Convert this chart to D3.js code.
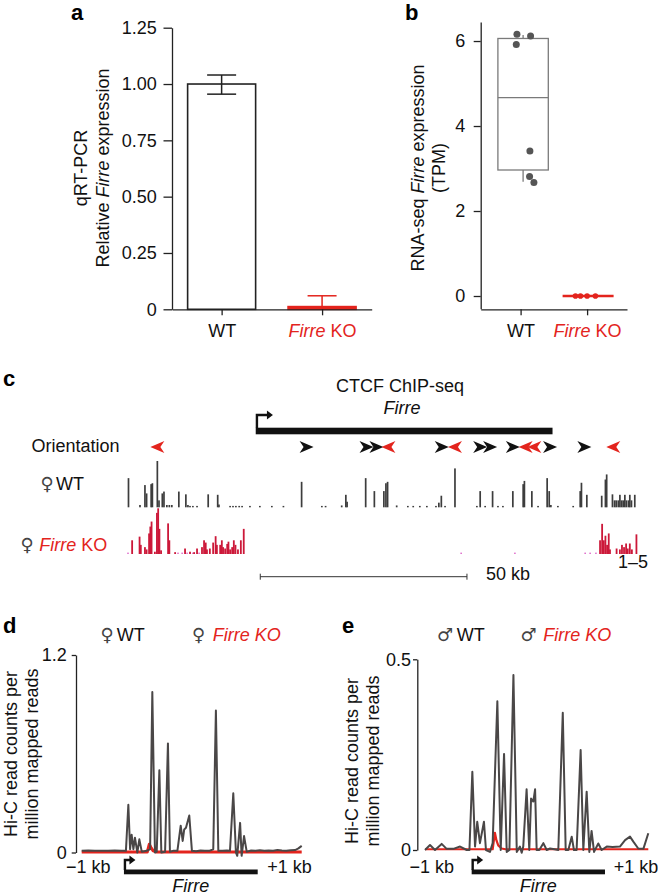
<!DOCTYPE html>
<html><head><meta charset="utf-8">
<script src="https://cdn.jsdelivr.net/npm/d3@7/dist/d3.min.js"></script>
<style>body{margin:0;background:#fff}</style>
</head><body><svg id="c" width="658" height="894" style="background:#fff"></svg>
<script>
// ================= DATA =================
// Panel a: qRT-PCR
const qpcrCategories = ["WT", "Firre KO"];
const qpcrMeans = [1.00, 0.012];
const qpcrErrLow = [0.955, 0.0];
const qpcrErrHigh = [1.04, 0.06];
const qpcrTicks = [0, 0.25, 0.5, 0.75, 1.0, 1.25];
const qpcrTickLabels = ["0", "0.25", "0.50", "0.75", "1.00", "1.25"];

// Panel b: RNA-seq TPM
const rnaCategories = ["WT", "Firre KO"];
const rnaWTValues = [6.16, 6.12, 5.92, 3.41, 2.81, 2.67];
const rnaWTJitter = [-0.055, 0.15, -0.065, 0.14, 0.135, 0.2];
const rnaKOValues = [0.0, 0.0, 0.0, 0.0];
const rnaKOJitter = [-0.175, -0.1, 0.0, 0.125];
const rnaWTBox = {q1: 2.965, median: 4.67, q3: 6.06, lo: 2.69, hi: 6.14};
const rnaKOBox = {q1: 0, median: 0, q3: 0, lo: 0, hi: 0};
const rnaTicks = [0, 2, 4, 6];

// Panel c: CTCF ChIP-seq (kb from left edge of view)
const geneStartKb = 30.9, geneEndKb = 102.7;
const scaleBarKb = [32, 82];
const orientationKb = [7.1, 43.2, 57.7, 60.1, 63.0, 75.9, 79.1, 85.2, 87.6, 93.1, 96.2, 98.3, 102.1, 110.4, 117.4];
const orientationDir = [-1, 1, 1, 1, -1, 1, -1, 1, 1, 1, -1, -1, 1, 1, -1];
const wtPeakKb = [0.12, 2.9, 4.1, 4.5, 5.6, 5.9, 7.1, 7.5, 8.3, 8.7, 9.4, 10.0, 10.6, 12.3, 14.0, 14.5, 15.0, 15.7, 16.7,
  19.4, 21.7, 22.0, 24.7, 25.4, 26.1, 26.9, 27.6, 29.5, 31.9, 34.8, 37.6, 42.0, 46.9, 47.8, 51.7, 52.7, 53.0,
  57.5, 59.6, 61.9, 62.4, 62.8, 65.0, 67.7, 69.0, 70.6, 72.3, 74.5, 75.2, 75.8, 76.7, 79.1, 84.4, 85.2, 86.4,
  88.2, 89.5, 90.7, 93.1, 95.6, 95.9, 97.7, 99.2, 101.4, 101.9, 102.3, 104.0, 107.7, 109.4, 109.7, 111.0,
  114.6, 115.5, 115.8, 117.2, 117.7, 118.1, 118.6, 119.0, 119.4, 119.8, 120.2, 120.6, 121.1, 121.4, 121.8, 122.6];
const wtPeakHeight = [0.63, 0.05, 0.48, 0.3, 0.5, 0.52, 1.0, 0.15, 0.3, 0.34, 0.05, 0.05, 0.05, 0.34, 0.28, 0.05, 0.03, 0.03, 0.03,
  0.28, 0.27, 0.06, 0.03, 0.03, 0.03, 0.03, 0.03, 0.03, 0.03, 0.03, 0.03, 0.55, 0.03, 0.03, 0.04, 0.27, 0.12,
  0.63, 0.35, 0.35, 0.52, 0.55, 0.04, 0.03, 0.03, 0.03, 0.03, 0.03, 0.1, 0.25, 0.03, 0.84, 0.03, 0.35, 0.03,
  0.35, 0.03, 0.03, 0.35, 0.5, 0.57, 0.35, 0.03, 0.63, 0.35, 0.05, 0.03, 0.03, 0.35, 0.53, 0.27,
  0.25, 0.6, 0.71, 0.28, 0.15, 0.15, 0.15, 0.27, 0.15, 0.15, 0.27, 0.15, 0.15, 0.27, 0.15, 0.27];
const koPeakKb = [1.0, 2.8, 3.1, 4.1, 4.5, 5.1, 5.4, 5.7, 6.5, 7.0, 7.3, 7.6, 8.0, 9.7, 10.0, 11.4, 13.8, 15.0, 16.0, 16.7,
  17.9, 18.4, 18.8, 19.1, 19.8, 20.6, 21.2, 21.5, 22.3, 22.7, 23.0, 23.5, 24.0, 24.3, 24.7, 25.2, 25.6, 26.0, 26.6,
  27.3, 28.0, 114.2, 114.7, 115.1, 115.5, 115.9, 116.3, 116.6, 118.2, 119.0, 119.5, 120.0, 120.5, 120.9, 121.4, 121.9, 123.0];
const koPeakHeight = [0.3, 0.38, 0.2, 0.15, 0.1, 0.45, 0.6, 0.71, 0.05, 0.9, 1.0, 0.55, 0.08, 0.67, 0.3, 0.04, 0.12, 0.05, 0.04, 0.12,
  0.15, 0.3, 0.25, 0.1, 0.12, 0.25, 0.39, 0.2, 0.2, 0.3, 0.15, 0.12, 0.22, 0.27, 0.1, 0.15, 0.3, 0.2, 0.1,
  0.3, 0.55, 0.3, 0.66, 0.3, 0.4, 0.2, 0.45, 0.1, 0.12, 0.1, 0.2, 0.15, 0.23, 0.12, 0.23, 0.1, 0.43];
const koLowSignalKb = [0, 12.1, 13.1, 14.3, 15.7, 17.2, 80.6, 93.6, 110.6, 111.8, 113.2];

// Panel d: female Hi-C (position along window 0-100, value)
const hicFemaleWT = [[0,0.01],[3,0.012],[6,0.01],[9,0.011],[12,0.01],[15,0.012],[18,0.01],[20.1,0.01],
  [21.2,0.29],[22,0.02],[22.7,0.108],[23.5,0.02],[24.2,0.09],[25.3,0.0],[26.2,0.08],[27.3,0.005],
  [29.5,0.01],[31.1,0.02],[32.1,0.975],[33.3,0.0],[34.1,0.005],[35.3,0.5],[36.2,0.0],
  [37.9,0.005],[39.2,0.663],[40.1,0.005],[41.5,0.01],[43.5,0.01],[45,0.163],[45.9,0.07],[46.6,0.14],[47.4,0.15],[48.9,0.225],[50.1,0.01],
  [52,0.008],[54,0.012],[56,0.01],[58,0.01],[59.8,0.02],[61,0.863],[62.1,0.01],[64,0.01],[66,0.012],[67.4,0.01],
  [68.9,0.36],[70.1,0.0],[70.7,-0.02],[72,0.18],[72.7,-0.02],[73.8,0.1],[75,0.005],
  [77,0.012],[79,0.01],[81,0.013],[83,0.01],[85,0.012],[87,0.01],[89,0.015],[91,0.012],[93,0.01],[95,0.014],[97,0.015],[98.5,0.025],[100,0.04]];
const hicFemaleKO = [[0,0.003],[29.8,0.003],[30.7,0.05],[31.5,0.03],[32.5,0.01],[34,0.003],[100,0.003]];
const hicFemaleTicks = [0, 1.2];
const hicFemaleGene = [19.2, 80];

// Panel e: male Hi-C
const hicMaleWT = [[0,0.0],[2.24,0.013],[4.48,0.0],[7.46,0.016],[9.7,0.003],[12.7,0.003],[15.7,0.009],[18.7,0.0],[19.9,0.0],
  [21.2,0.205],[22.4,0.009],[23.4,0.074],[24.6,0.018],[26.4,0.074],[27.3,0.0],[29.1,-0.005],[30.3,0.018],
  [32.4,0.39],[33.9,0.0],[35.4,0.252],[36.6,-0.005],[37.8,0.0],[39.6,0.459],[41.1,-0.005],[42.5,0.009],[43.3,-0.007],[44,0.009],
  [45.5,0.159],[46.7,0.0],[47.5,0.135],[48.5,0.127],[49.3,0.159],[50,0.0],[51.2,0.0],[53,0.018],[54.5,0.0],
  [56,0.004],[58,0.002],[59.7,0.0],[61.7,0.36],[63,0.0],[64.2,0.0],[65.7,0.035],[66.7,0.0],[67.9,0.0],
  [69.7,0.262],[70.9,0.0],[72.4,0.153],[73.6,-0.005],[74.6,0.05],[75.7,-0.005],[77.6,0.017],[79.1,0.0],
  [81.4,0.009],[84,0.008],[87.3,0.009],[89.6,0.026],[91.8,0.035],[93.3,0.022],[95.5,0.004],[97.8,0.003],[100,0.044]];
const hicMaleKO = [[0,0.002],[30.3,0.002],[31.3,0.045],[32,0.025],[32.8,0.012],[34.3,0.004],[36,0.002],[100,0.002]];
const hicMaleTicks = [0, 0.5];
const hicMaleGene = [20.9, 80.6];
const hicEdgeLabels = ["\u22121 kb", "+1 kb"];
const hicEdgePos = [3, 94.5];

// ================= DRAWING =================
const FONT = '"Liberation Sans", Arial, Helvetica, sans-serif';
const SYM = '"DejaVu Sans", sans-serif';
const RED = "#e3241d";
const CRIMSON = "#cc1839";
const INK = "#222";
const FS = 18;
const svg = d3.select("#c").attr("font-family", FONT);

function styleAxis(g, fs) {
  g.attr("font-size", fs).attr("font-family", FONT);
  g.selectAll("path.domain").attr("stroke", INK).attr("stroke-width", 1.3);
  g.selectAll(".tick line").attr("stroke", INK).attr("stroke-width", 1.3);
  g.selectAll(".tick text").attr("fill", "#111");
}
function richLabel(g) {
  g.selectAll(".tick text").each(function (d) {
    const t = d3.select(this);
    if (d === "Firre KO") {
      t.text(null).attr("fill", RED);
      t.append("tspan").attr("font-style", "italic").text("Firre");
      t.append("tspan").text(" KO");
    }
  });
}
function panelLetter(x, y, s) {
  svg.append("text").attr("x", x).attr("y", y).attr("font-size", 22).attr("font-weight", "bold").attr("fill", "#000").text(s);
}
function rotLabel(x, y, parts) {
  const t = svg.append("text").attr("transform", `translate(${x},${y}) rotate(-90)`)
    .attr("text-anchor", "middle").attr("font-size", FS).attr("fill", "#111");
  parts.forEach(p => t.append("tspan").attr("font-style", p[1] ? "italic" : "normal").text(p[0]));
}

// ---------- Panel a ----------
panelLetter(71, 20, "a");
const aY = d3.scaleLinear().domain([0, 1.25]).range([309.3, 27.7]);
const aX = d3.scalePoint().domain(qpcrCategories).range([172, 371.7]).padding(0.494);
svg.append("g").attr("transform", "translate(172,0)")
  .call(d3.axisLeft(aY).tickValues(qpcrTicks).tickFormat((d, i) => qpcrTickLabels[i]).tickSize(8.5).tickPadding(6.8).tickSizeOuter(0))
  .call(styleAxis, FS);
const aBw = 68;
qpcrCategories.forEach((c, i) => {
  const col = i === 0 ? INK : RED;
  svg.append("rect").attr("x", aX(c) - aBw / 2).attr("y", aY(qpcrMeans[i]))
    .attr("width", aBw).attr("height", aY(0) - aY(qpcrMeans[i]))
    .attr("fill", i === 0 ? "#fff" : RED).attr("stroke", col).attr("stroke-width", 1.6);
  const cx = aX(c);
  svg.append("line").attr("x1", cx).attr("x2", cx).attr("y1", aY(qpcrErrLow[i])).attr("y2", aY(qpcrErrHigh[i]))
    .attr("stroke", col).attr("stroke-width", 1.5);
  [qpcrErrLow[i], qpcrErrHigh[i]].forEach(v => {
    if (v <= 0) return;
    svg.append("line").attr("x1", cx - 14.5).attr("x2", cx + 14.5).attr("y1", aY(v)).attr("y2", aY(v))
      .attr("stroke", col).attr("stroke-width", 1.5);
  });
});
svg.append("g").attr("transform", "translate(0,309.3)")
  .call(d3.axisBottom(aX).tickSize(6).tickPadding(9).tickSizeOuter(0))
  .call(styleAxis, FS).call(richLabel);
rotLabel(87, 168, [["qRT-PCR", false]]);
rotLabel(108.5, 168, [["Relative ", false], ["Firre", true], [" expression", false]]);

// ---------- Panel b ----------
panelLetter(405, 20, "b");
const bY = d3.scaleLinear().domain([-0.3, 6.45]).range([308.75, 21.9]);
const bX = d3.scalePoint().domain(rnaCategories).range([480.7, 627]).padding(0.6);
svg.append("g").attr("transform", "translate(480.7,0)")
  .call(d3.axisLeft(bY).tickValues(rnaTicks).tickFormat(d3.format("d")).tickSize(7).tickPadding(8.5).tickSizeOuter(0))
  .call(styleAxis, FS);
svg.append("g").attr("transform", "translate(0,309.3)")
  .call(d3.axisBottom(bX).tickSize(6).tickPadding(9).tickSizeOuter(0))
  .call(styleAxis, FS).call(richLabel);
{
  const cx = bX("WT") + 2.5, bw = 50.4, st = "#7a7a7a";
  svg.append("line").attr("x1", cx).attr("x2", cx).attr("y1", bY(rnaWTBox.q1)).attr("y2", bY(rnaWTBox.lo)).attr("stroke", st).attr("stroke-width", 1.3);
  svg.append("line").attr("x1", cx).attr("x2", cx).attr("y1", bY(rnaWTBox.q3)).attr("y2", bY(rnaWTBox.hi)).attr("stroke", st).attr("stroke-width", 1.3);
  svg.append("rect").attr("x", cx - bw / 2).attr("y", bY(rnaWTBox.q3)).attr("width", bw)
    .attr("height", bY(rnaWTBox.q1) - bY(rnaWTBox.q3)).attr("fill", "none").attr("stroke", st).attr("stroke-width", 1.3);
  svg.append("line").attr("x1", cx - bw / 2).attr("x2", cx + bw / 2).attr("y1", bY(rnaWTBox.median)).attr("y2", bY(rnaWTBox.median))
    .attr("stroke", st).attr("stroke-width", 1.3);
  const kx = bX("Firre KO") + 1;
  svg.append("line").attr("x1", kx - 25.5).attr("x2", kx + 25.5).attr("y1", bY(rnaKOBox.median)).attr("y2", bY(rnaKOBox.median))
    .attr("stroke", RED).attr("stroke-width", 2.6);
  const step = bX.step();
  svg.selectAll("circle.wt").data(rnaWTValues).enter().append("circle")
    .attr("cx", (d, i) => bX("WT") + rnaWTJitter[i] * step).attr("cy", d => bY(d)).attr("r", 3.5).attr("fill", "#555");
  svg.selectAll("circle.ko").data(rnaKOValues).enter().append("circle")
    .attr("cx", (d, i) => bX("Firre KO") + rnaKOJitter[i] * step).attr("cy", d => bY(d)).attr("r", 2.8).attr("fill", RED);
}
rotLabel(423.5, 168, [["RNA-seq ", false], ["Firre", true], [" expression", false]]);
rotLabel(445, 168, [["(TPM)", false]]);

// ---------- Panel c ----------
panelLetter(3, 386, "c");
const cX = d3.scaleLinear().domain([0, 123.5]).range([128, 638.5]);
const cYwt = d3.scaleLinear().domain([0, 1]).range([507.3, 461]);
const cYko = d3.scaleLinear().domain([0, 1]).range([554, 508.3]);
svg.append("text").attr("x", cX((geneStartKb + geneEndKb) / 2) - 4).attr("y", 392).attr("text-anchor", "middle")
  .attr("font-size", FS).attr("fill", "#111").text("CTCF ChIP-seq");
svg.append("text").attr("x", cX((geneStartKb + geneEndKb) / 2) - 2).attr("y", 414).attr("text-anchor", "middle")
  .attr("font-size", FS).attr("font-style", "italic").attr("fill", "#111").text("Firre");
svg.append("rect").attr("x", cX(geneStartKb)).attr("y", 427.7).attr("width", cX(geneEndKb) - cX(geneStartKb)).attr("height", 6.6).attr("fill", "#111");
function tss(x, yBase, yTop, len) {
  svg.append("path").attr("d", `M${x},${yBase} V${yTop} H${x + len - 4}`).attr("fill", "none").attr("stroke", "#111").attr("stroke-width", 2.4);
  svg.append("path").attr("d", `M${x + len + 1},${yTop} L${x + len - 5},${yTop - 4.5} L${x + len - 5},${yTop + 4.5} Z`).attr("fill", "#111");
}
tss(cX(geneStartKb) + 1.2, 428, 415, 15);
svg.append("text").attr("x", 31.5).attr("y", 451.7).attr("font-size", FS).attr("fill", "#111").text("Orientation");
svg.selectAll("path.ori").data(orientationKb).enter().append("path")
  .attr("d", "M7,0 L-7,-6 L-3,0 L-7,6 Z")
  .attr("transform", (d, i) => `translate(${cX(d)},447) scale(${orientationDir[i]},1)`)
  .attr("fill", (d, i) => orientationDir[i] > 0 ? "#111" : RED);
// WT track
svg.selectAll("rect.wtp").data(wtPeakKb).enter().append("rect")
  .attr("x", d => cX(d) - 0.85).attr("width", 1.7)
  .attr("y", (d, i) => cYwt(wtPeakHeight[i])).attr("height", (d, i) => Math.max(1.4, cYwt(0) - cYwt(wtPeakHeight[i])))
  .attr("fill", "#3d3d3d");
// KO track
svg.selectAll("rect.kolow").data(koLowSignalKb).enter().append("rect")
  .attr("x", d => cX(d) - 0.8).attr("width", 1.6).attr("y", cYko(0) - 1.4).attr("height", 1.4).attr("fill", "#e070cc");
svg.selectAll("rect.kop").data(koPeakKb).enter().append("rect")
  .attr("x", d => cX(d) - 0.9).attr("width", 1.8)
  .attr("y", (d, i) => cYko(koPeakHeight[i])).attr("height", (d, i) => Math.max(1.4, cYko(0) - cYko(koPeakHeight[i])))
  .attr("fill", CRIMSON);
// labels
{
  const t1 = svg.append("text").attr("y", 490).attr("font-size", FS).attr("fill", "#111");
  t1.append("tspan").attr("x", 40.5).attr("font-family", SYM).attr("fill", "#444").text("\u2640");
  t1.append("tspan").attr("x", 56).text("WT");
  const t2 = svg.append("text").attr("y", 551).attr("font-size", FS);
  t2.append("tspan").attr("x", 20.5).attr("font-family", SYM).attr("fill", "#444").text("\u2640");
  t2.append("tspan").attr("x", 39.3).attr("fill", RED).attr("font-style", "italic").text("Firre");
  t2.append("tspan").attr("fill", RED).text(" KO");
}
{
  const x1 = cX(scaleBarKb[0]), x2 = cX(scaleBarKb[1]), y = 576.7;
  svg.append("path").attr("d", `M${x1},${y - 3} V${y + 3} M${x1},${y} H${x2} M${x2},${y - 3} V${y + 3}`)
    .attr("stroke", "#333").attr("stroke-width", 1).attr("fill", "none");
  svg.append("text").attr("x", 486).attr("y", 580).attr("font-size", FS).attr("fill", "#111").text("50 kb");
  svg.append("text").attr("x", 618).attr("y", 568).attr("font-size", FS).attr("fill", "#111").text("1\u20135");
}

// ---------- Panels d & e ----------
function hicPanel(o) {
  panelLetter(o.letterX, 632.7, o.letter);
  const x = d3.scaleLinear().domain([0, 100]).range(o.xr);
  const y = d3.scaleLinear().domain([0, o.ticks[1]]).range(o.yr);
  svg.append("g").attr("transform", `translate(${o.axisX},0)`)
    .call(d3.axisLeft(y).tickValues(o.ticks).tickFormat(d => d === 0 ? "0" : String(d)).tickSize(4.3).tickPadding(o.pad).tickSizeOuter(0))
    .call(styleAxis, FS);
  const line = d3.line().x(d => x(d[0])).y(d => y(d[1]));
  svg.append("path").datum(o.ko).attr("d", line).attr("fill", "none").attr("stroke", RED).attr("stroke-width", o.redW).attr("stroke-linejoin", "round");
  svg.append("path").datum(o.wt).attr("d", line).attr("fill", "none").attr("stroke", "#4a4747").attr("stroke-width", 2).attr("stroke-linejoin", "round");
  // gene
  const g0 = x(o.gene[0]), g1 = x(o.gene[1]);
  svg.append("rect").attr("x", g0).attr("y", 869.5).attr("width", g1 - g0).attr("height", 4.8).attr("fill", "#111");
  tss(g0 + 1, 870, 860, 9.5);
  svg.append("text").attr("x", (g0 + g1) / 2).attr("y", 891.5).attr("text-anchor", "middle").attr("font-size", FS)
    .attr("font-style", "italic").attr("fill", "#111").text("Firre");
  hicEdgeLabels.forEach((s, i) => svg.append("text").attr("x", x(hicEdgePos[i])).attr("y", 872.7)
    .attr("text-anchor", "middle").attr("font-size", FS).attr("fill", "#111").text(s));
  // legend
  const t1 = svg.append("text").attr("y", 640.5).attr("font-size", FS).attr("fill", "#111");
  t1.append("tspan").attr("x", o.leg[0]).attr("font-family", SYM).attr("fill", "#444").text(o.sym);
  t1.append("tspan").attr("x", o.leg[1]).text("WT");
  const t2 = svg.append("text").attr("y", 640.5).attr("font-size", FS);
  t2.append("tspan").attr("x", o.leg[2]).attr("font-family", SYM).attr("fill", "#444").text(o.sym);
  t2.append("tspan").attr("x", o.leg[3]).attr("fill", RED).attr("font-style", "italic").text("Firre KO");
  rotLabel(o.lab[0], o.labY, [["Hi-C read counts per", false]]);
  rotLabel(o.lab[1], o.labY, [["million mapped reads", false]]);
}
hicPanel({letter: "d", letterX: 3, xr: [81.7, 301.7], yr: [852.5, 655], axisX: 76, ticks: hicFemaleTicks, pad: 5,
  wt: hicFemaleWT, ko: hicFemaleKO, redW: 3, gene: hicFemaleGene, sym: "\u2640",
  leg: [100.5, 116.7, 192, 212.7], lab: [16.5, 38], labY: 754});
hicPanel({letter: "e", letterX: 342, xr: [425, 648.3], yr: [850, 659.3], axisX: 417.3, ticks: hicMaleTicks, pad: 2,
  wt: hicMaleWT, ko: hicMaleKO, redW: 2.2, gene: hicMaleGene, sym: "\u2642",
  leg: [437, 456.7, 520.5, 543.3], lab: [358, 379], labY: 761});
</script>
</body></html>
